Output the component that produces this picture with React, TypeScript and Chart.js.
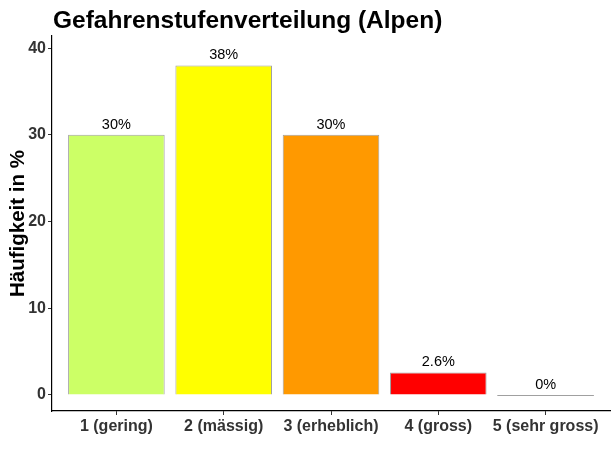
import React, { useEffect, useRef } from "react";
import { Chart, registerables } from "chart.js";

Chart.register(...registerables);

const categories = ["1 (gering)", "2 (mässig)", "3 (erheblich)", "4 (gross)", "5 (sehr gross)"];
const values = [30, 38, 30, 2.6, 0];
const valueLabels = ["30%", "38%", "30%", "2.6%", "0%"];
const barColors = ["#CCFF66", "#FFFF00", "#FF9900", "#FF0000", "#BEBEBE"];
const yTicks = [0, 10, 20, 30, 40];
const titleText = "Gefahrenstufenverteilung (Alpen)";
const yTitle = "Häufigkeit in %";

const FONT = "'Liberation Sans', Arial, sans-serif";
const BORDER = "#A0A0A0";

const overlay = {
  id: "overlay",
  afterDatasetsDraw(chart: any) {
    const ctx = chart.ctx;
    const meta = chart.getDatasetMeta(0);
    ctx.save();
    // zero-height bars drawn as a thin outline
    meta.data.forEach((el: any, i: number) => {
      if (values[i] === 0) {
        ctx.strokeStyle = BORDER;
        ctx.lineWidth = 1;
        ctx.beginPath();
        ctx.moveTo(el.x - el.width / 2, Math.round(el.y) + 0.5);
        ctx.lineTo(el.x + el.width / 2, Math.round(el.y) + 0.5);
        ctx.stroke();
      }
    });
    ctx.fillStyle = "#000";
    ctx.font = `14.5px ${FONT}`;
    ctx.textAlign = "center";
    ctx.textBaseline = "bottom";
    meta.data.forEach((el: any, i: number) => {
      ctx.fillText(valueLabels[i], el.x, el.y - 3);
    });
    // title
    ctx.font = `bold 24.5px ${FONT}`;
    ctx.textAlign = "left";
    ctx.textBaseline = "alphabetic";
    ctx.fillText(titleText, 53, 28);
    // y title
    const ca = chart.chartArea;
    ctx.font = `bold 20.5px ${FONT}`;
    ctx.translate(24, (ca.top + ca.bottom) / 2);
    ctx.rotate(-Math.PI / 2);
    ctx.textAlign = "center";
    ctx.textBaseline = "alphabetic";
    ctx.fillText(yTitle, 0, 0);
    ctx.restore();
  },
};

export default function App() {
  const ref = useRef<HTMLCanvasElement>(null);
  useEffect(() => {
    document.body.style.margin = "0";
    const chart = new Chart(ref.current!, {
      type: "bar",
      data: {
        datasets: [
          {
            data: values.map((v, i) => ({ x: i + 1, y: v })),
            backgroundColor: barColors,
            borderColor: BORDER,
            borderWidth: 1,
            barPercentage: 0.9,
            categoryPercentage: 1,
          },
        ],
      },
      options: {
        animation: false,
        responsive: false,
        maintainAspectRatio: false,
        layout: { padding: { top: 36, right: 6, left: 0, bottom: 0 } },
        plugins: { legend: { display: false }, tooltip: { enabled: false }, title: { display: false } },
        scales: {
          x: {
            type: "linear",
            offset: false,
            min: 0.4,
            max: 5.6,
            afterBuildTicks(scale: any) {
              scale.ticks = categories.map((_, i) => ({ value: i + 1 }));
            },
            afterFit(scale: any) {
              scale.height = 51;
            },
            ticks: {
              autoSkip: false,
              maxRotation: 0,
              color: "#333333",
              font: { family: FONT, size: 16, weight: "bold" },
              padding: 2,
              callback: (v: any) => categories[Math.round(v) - 1] ?? "",
            },
            grid: { offset: false, drawOnChartArea: false, drawTicks: true, tickLength: 4, color: "#333333" },
            border: { display: true, color: "#000", width: 1.2 },
          },
          y: {
            min: -1.85,
            max: 41.4,
            afterBuildTicks(scale: any) {
              scale.ticks = yTicks.map((v) => ({ value: v }));
            },
            afterFit(scale: any) {
              scale.width = 52;
            },
            ticks: {
              color: "#333333",
              font: { family: FONT, size: 16, weight: "bold" },
              padding: 2,
            },
            grid: { drawOnChartArea: false, drawTicks: true, tickLength: 4, color: "#333333" },
            border: { display: true, color: "#000", width: 1.2 },
          },
        },
      },
      plugins: [overlay],
    } as any);
    return () => chart.destroy();
  }, []);
  return (
    <div style={{ position: "relative", width: 616, height: 462 }}>
      <canvas ref={ref} width={616} height={462} style={{ display: "block" }} />
    </div>
  );
}
